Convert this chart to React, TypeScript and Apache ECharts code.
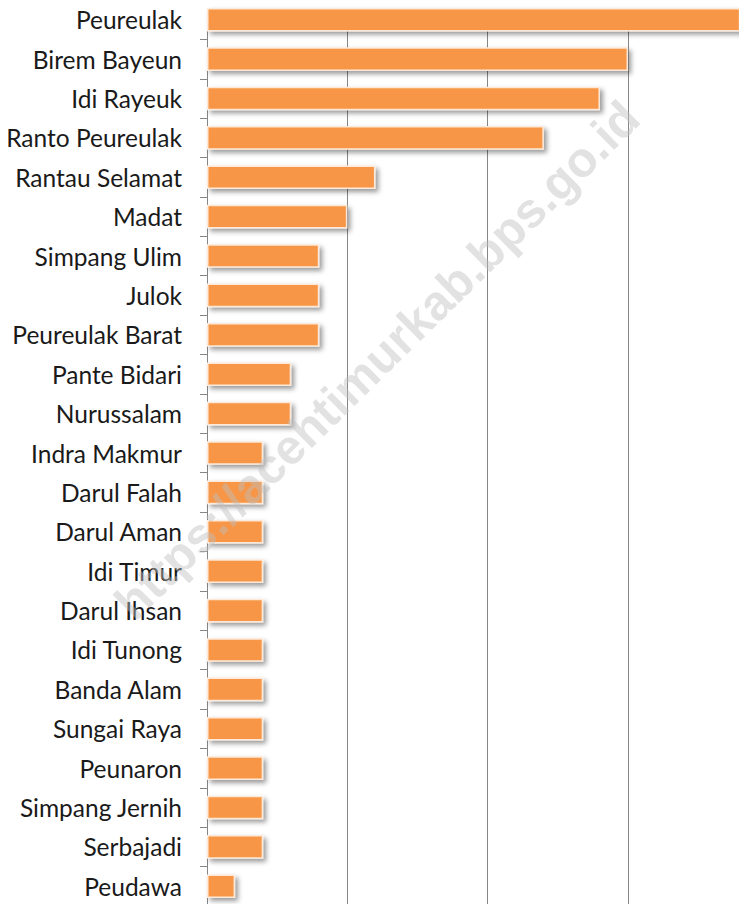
import React, { useEffect, useRef } from "react";
import * as echarts from "echarts";

const categories = [
  "Peureulak", "Birem Bayeun", "Idi Rayeuk", "Ranto Peureulak", "Rantau Selamat",
  "Madat", "Simpang Ulim", "Julok", "Peureulak Barat", "Pante Bidari", "Nurussalam",
  "Indra Makmur", "Darul Falah", "Darul Aman", "Idi Timur", "Darul Ihsan", "Idi Tunong",
  "Banda Alam", "Sungai Raya", "Peunaron", "Simpang Jernih", "Serbajadi", "Peudawa",
];
const values = [19, 15, 14, 12, 6, 5, 4, 4, 4, 3, 3, 2, 2, 2, 2, 2, 2, 2, 2, 2, 2, 2, 1];
const watermark = "https://acehtimurkab.bps.go.id";

export default function App() {
  const ref = useRef<HTMLDivElement>(null);
  useEffect(() => {
    const chart = echarts.init(ref.current!, null, { renderer: "svg" });
    chart.setOption({
      animation: false,
      grid: {
        left: 207,
        top: 0,
        width: 561.4,
        height: 906,
        containLabel: false,
        outerBoundsMode: "none",
      },
      xAxis: {
        type: "value",
        min: 0,
        max: 20,
        interval: 5,
        axisLabel: { show: false },
        axisLine: { show: false },
        axisTick: { show: false },
        splitLine: { show: true, lineStyle: { color: "#868686", width: 1 } },
      },
      yAxis: {
        type: "category",
        data: categories,
        inverse: true,
        axisLine: { show: true, lineStyle: { color: "#868686", width: 1 } },
        axisTick: { show: true, length: 7, lineStyle: { color: "#868686" } },
        axisLabel: {
          margin: 25,
          fontFamily: "Lato",
          fontSize: 24.5,
          color: "#1a1a1a",
        },
      },
      series: [
        {
          type: "bar",
          data: values,
          barCategoryGap: "40%",
          itemStyle: {
            color: "#F79646",
            borderColor: "#fde9d9",
            borderWidth: 1.5,
            shadowColor: "rgba(0,0,0,0.4)",
            shadowBlur: 5,
            shadowOffsetX: 3,
            shadowOffsetY: 3,
          },
        },
      ],
      graphic: [
        {
          type: "rect",
          z: 1,
          shape: { x: 195, y: 0, width: 544, height: 8 },
          style: { fill: "#ffffff" },
        },
        {
          type: "text",
          z: 100,
          x: 377,
          y: 360,
          rotation: (44.6 * Math.PI) / 180,
          style: {
            text: watermark,
            fontFamily: "Liberation Sans",
            fontWeight: "bold",
            fontSize: 49,
            fill: "rgba(190,190,190,0.45)",
            align: "center",
            verticalAlign: "middle",
          },
        },
      ],
    });
    return () => chart.dispose();
  }, []);
  return (
    <div
      ref={ref}
      style={{ position: "absolute", left: 0, top: 0, width: 739, height: 904 }}
    />
  );
}
